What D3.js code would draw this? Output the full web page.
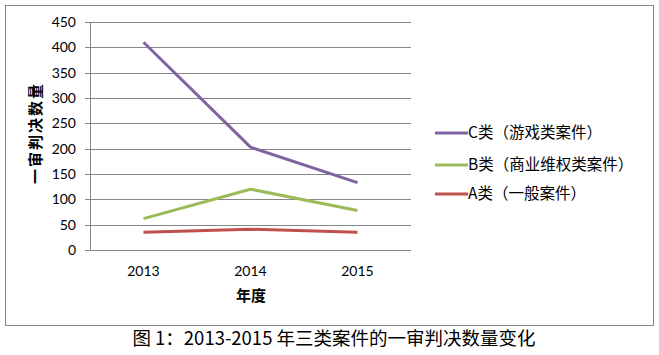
<!DOCTYPE html>
<html><head><meta charset="utf-8">
<script src="https://cdn.jsdelivr.net/npm/d3@7"></script>
<style>body{margin:0;background:#fff}svg{display:block}</style>
</head><body>
<svg id="c" width="659" height="355"></svg>
<script>
const years = ["2013", "2014", "2015"];
const seriesNames = ["C类（游戏类案件）", "B类（商业维权类案件）", "A类（一般案件）"];
const seriesC = [410, 203, 133];
const seriesB = [62, 120, 78];
const seriesA = [35, 41, 35];
const yTicks = [0, 50, 100, 150, 200, 250, 300, 350, 400, 450];
const colors = ["#8064a2", "#9bbb59", "#c0504d"];
const xTitle = "年度";
const yTitle = "一审判决数量";
const caption = "图 1：2013-2015 年三类案件的一审判决数量变化";

const series = [seriesC, seriesB, seriesA];
const svg = d3.select("#c");
const numFont = "Lato, 'Liberation Sans', sans-serif";
const cjkFont = "'Noto Sans CJK SC', sans-serif";

// outer border
svg.append("rect").attr("x", 5.5).attr("y", 5.5).attr("width", 648).attr("height", 320)
  .attr("fill", "none").attr("stroke", "#888").attr("stroke-width", 1);

const x = d3.scaleBand().domain(years).range([90, 411]);
const y = d3.scaleLinear().domain([0, 450]).range([250, 22]);

// gridlines
svg.append("g").selectAll("line").data(yTicks).join("line")
  .attr("x1", 85).attr("x2", 411)
  .attr("y1", d => Math.round(y(d)) + 0.5).attr("y2", d => Math.round(y(d)) + 0.5)
  .attr("stroke", "#868686").attr("stroke-width", 1);
// y axis line
svg.append("line").attr("x1", 90.5).attr("x2", 90.5).attr("y1", 22).attr("y2", 250.5)
  .attr("stroke", "#868686");

// y tick labels
svg.append("g").selectAll("text").data(yTicks).join("text")
  .attr("x", 76).attr("y", d => y(d)).attr("dy", "0.35em")
  .attr("text-anchor", "end").attr("font-family", numFont).attr("font-size", 14)
  .attr("fill", "#000").text(d => d);

// x tick labels
svg.append("g").selectAll("text").data(years).join("text")
  .attr("x", d => x(d) + x.bandwidth() / 2).attr("y", 276)
  .attr("text-anchor", "middle").attr("font-family", numFont).attr("font-size", 14)
  .attr("fill", "#000").text(d => d);

// axis titles
svg.append("text").attr("x", 251).attr("y", 301).attr("text-anchor", "middle")
  .attr("font-family", cjkFont).attr("font-size", 15).attr("font-weight", "bold").text(xTitle);
svg.append("text").attr("transform", "translate(41,133) rotate(-90)").attr("text-anchor", "middle")
  .attr("font-family", cjkFont).attr("font-size", 15).attr("letter-spacing", "2px")
  .attr("font-weight", "bold").text(yTitle);

// lines
const line = d3.line().x((d, i) => x(years[i]) + x.bandwidth() / 2).y(d => y(d));
series.forEach((s, i) => {
  svg.append("path").datum(s).attr("d", line).attr("fill", "none")
    .attr("stroke", colors[i]).attr("stroke-width", 3).attr("stroke-linejoin", "round");
});

// legend
const legY = [133, 165, 194];
seriesNames.forEach((n, i) => {
  svg.append("line").attr("x1", 435).attr("x2", 468).attr("y1", legY[i]).attr("y2", legY[i])
    .attr("stroke", colors[i]).attr("stroke-width", 3);
  svg.append("text").attr("x", 468).attr("y", legY[i]).attr("dy", "0.35em")
    .attr("font-family", cjkFont).attr("font-size", 15.5).attr("fill", "#000").text(n);
});

// caption
svg.append("text").attr("x", 334).attr("y", 339).attr("dy", "0.35em").attr("text-anchor", "middle")
  .attr("font-family", cjkFont).attr("font-size", 18.5).attr("fill", "#000").text(caption);
</script>
</body></html>
